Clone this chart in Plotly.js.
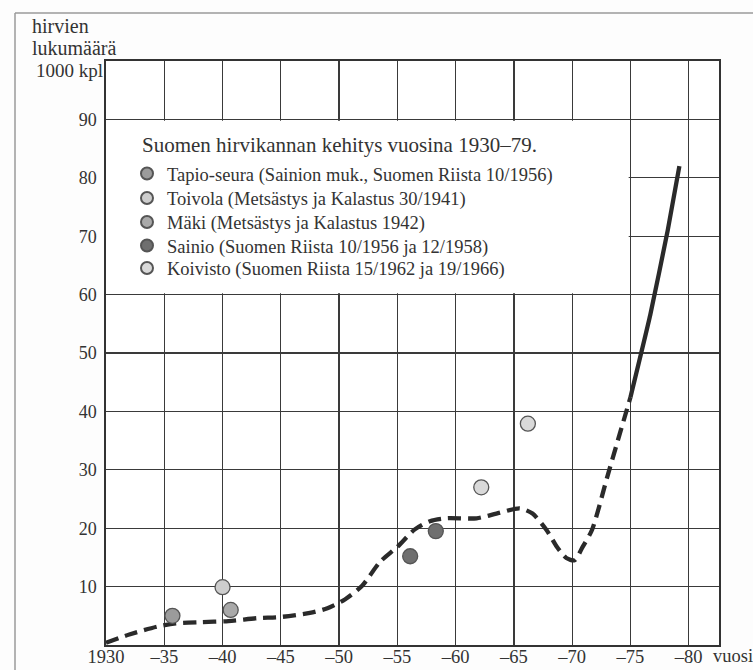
<!DOCTYPE html>
<html>
<head>
<meta charset="utf-8">
<script src="https://cdn.plot.ly/plotly-3.0.1.min.js"></script>
<style>
html,body{margin:0;padding:0;background:#fdfdfd;}
#chart{width:753px;height:670px;}
</style>
</head>
<body>
<div id="chart"></div>
<script>
// ---- data ----
const curveYearsDashed = [1930, 1932, 1934.5, 1936, 1938, 1940.5, 1943, 1945, 1947.5, 1949, 1950.5, 1952, 1953.5, 1955, 1956.5, 1957.8, 1959.2, 1961.8, 1963.5, 1965.5, 1966.6, 1967.8, 1968.7, 1969.5, 1970.2, 1970.9, 1971.7, 1973.1, 1975];
const curveValuesDashed = [0.4, 1.8, 3.2, 3.7, 3.9, 4.1, 4.6, 4.8, 5.5, 6.3, 7.8, 10.2, 14.2, 16.8, 19.8, 21.2, 21.7, 21.7, 22.5, 23.4, 22.5, 19.7, 16.8, 14.9, 14.5, 16.8, 19.7, 29.4, 42.4];
const curveYearsSolid = [1975, 1976.7, 1978.2, 1979.2];
const curveValuesSolid = [42.4, 56.5, 71, 82];

const tapioYears = [1935.7];      const tapioValues = [5.0];
const toivolaYears = [1940.0];    const toivolaValues = [9.9];
const makiYears = [1940.7];       const makiValues = [6.0];
const sainioYears = [1956.1, 1958.3];   const sainioValues = [15.2, 19.5];
const koivistoYears = [1962.2, 1966.2]; const koivistoValues = [27.0, 37.9];

const seriesNames = [
  "Tapio-seura (Sainion muk., Suomen Riista 10/1956)",
  "Toivola (Metsästys ja Kalastus 30/1941)",
  "Mäki (Metsästys ja Kalastus 1942)",
  "Sainio (Suomen Riista 10/1956 ja 12/1958)",
  "Koivisto (Suomen Riista 15/1962 ja 19/1966)"
];
const legendTitle = "Suomen hirvikannan kehitys vuosina 1930–79.";
const xTickVals = [1930, 1935, 1940, 1945, 1950, 1955, 1960, 1965, 1970, 1975, 1980];
const xTickText = ["1930", "–35", "–40", "–45", "–50", "–55", "–60", "–65", "–70", "–75", "–80"];
const yTickVals = [10, 20, 30, 40, 50, 60, 70, 80, 90];
const yTickText = ["10", "20", "30", "40", "50", "60", "70", "80", "90"];

// ---- styles / layout helpers ----
const serif = "'Liberation Serif', 'DejaVu Serif', serif";
const ink = "#2a2a2a";
const txt = "#333";
const W = 753, H = 670, ML = 106, MR = 34, MT = 61, MB = 25;
const PW = W - ML - MR, PH = H - MT - MB;
const px = (x) => (x - ML) / PW;          // pixel -> paper x
const py = (y) => 1 - (y - MT) / PH;      // pixel -> paper y

const legendRowsPx = [174, 198.5, 222.5, 246, 268.5];
const legendIds = ["legend", "legend2", "legend3", "legend4", "legend5"];
const fills = ["#9b9b9b", "#cdcdcd", "#a9a9a9", "#6f6f6f", "#d9d9d9"];

function pts(i, x, y) {
  return {
    type: "scatter", mode: "markers", name: seriesNames[i], x: x, y: y,
    legend: legendIds[i],
    marker: {size: 15, color: fills[i], line: {color: "#555", width: 1.3}},
    showlegend: true, hoverinfo: "skip"
  };
}

const traces = [
  {type: "scatter", mode: "lines", x: curveYearsDashed, y: curveValuesDashed,
   line: {color: ink, width: 4.3, dash: "13px,7px", shape: "spline", smoothing: 0.7},
   showlegend: false, hoverinfo: "skip"},
  {type: "scatter", mode: "lines", x: curveYearsSolid, y: curveValuesSolid,
   line: {color: ink, width: 4.3, shape: "spline", smoothing: 0.4},
   showlegend: false, hoverinfo: "skip"},
  pts(0, tapioYears, tapioValues),
  pts(1, toivolaYears, toivolaValues),
  pts(2, makiYears, makiValues),
  pts(3, sainioYears, sainioValues),
  pts(4, koivistoYears, koivistoValues)
];

const layout = {
  width: W, height: H,
  margin: {l: ML, r: MR, t: MT, b: MB},
  paper_bgcolor: "#fdfdfd", plot_bgcolor: "#ffffff",
  font: {family: serif, color: txt, size: 18},
  showlegend: true,
  xaxis: {
    range: [1930, 1982.6], tickvals: xTickVals, ticktext: xTickText,
    showgrid: true, gridcolor: "#3a3a3a", gridwidth: 1.3,
    zeroline: false, showline: true, linecolor: "#333", linewidth: 1.6,
    mirror: true, ticks: "", ticklabelstandoff: -6,
    tickfont: {family: serif, size: 18.5, color: txt}, fixedrange: true
  },
  yaxis: {
    range: [0, 100], tickvals: yTickVals, ticktext: yTickText,
    showgrid: true, gridcolor: "#3a3a3a", gridwidth: 1.3,
    zeroline: false, showline: true, linecolor: "#333", linewidth: 1.6,
    mirror: true, ticks: "", ticklabelstandoff: 4,
    tickfont: {family: serif, size: 18, color: txt}, fixedrange: true
  },
  shapes: [
    {type: "rect", xref: "x", yref: "y", x0: 1930, x1: 1974.85, y0: 60.25, y1: 89.75,
     fillcolor: "#ffffff", line: {width: 0}, layer: "between"},
    {type: "line", xref: "paper", yref: "paper", x0: px(15), x1: px(760), y0: py(13), y1: py(13),
     line: {color: "#9a9a9a", width: 1.5}},
    {type: "line", xref: "paper", yref: "paper", x0: px(15), x1: px(15), y0: py(13), y1: py(680),
     line: {color: "#9a9a9a", width: 1.5}}
  ],
  annotations: [
    {text: "hirvien", xref: "paper", yref: "paper", x: px(30), y: py(26), xanchor: "left", yanchor: "middle", showarrow: false, font: {family: serif, size: 20, color: txt}},
    {text: "lukumäärä", xref: "paper", yref: "paper", x: px(30), y: py(48), xanchor: "left", yanchor: "middle", showarrow: false, font: {family: serif, size: 20, color: txt}},
    {text: "1000 kpl", xref: "paper", yref: "paper", x: px(105), y: py(70), xanchor: "right", yanchor: "middle", showarrow: false, font: {family: serif, size: 19, color: txt}},
    {text: "vuosi", xref: "paper", yref: "paper", x: px(711), y: py(656), xanchor: "left", yanchor: "middle", showarrow: false, font: {family: serif, size: 18.5, color: txt}},
    {text: legendTitle, xref: "paper", yref: "paper", x: px(140), y: py(145), xanchor: "left", yanchor: "middle", showarrow: false, font: {family: serif, size: 21, color: txt}}
  ]
};

legendIds.forEach((id, i) => {
  layout[id] = {
    x: px(127), y: py(legendRowsPx[i]), xanchor: "left", yanchor: "middle",
    bgcolor: "rgba(0,0,0,0)", borderwidth: 0,
    font: {family: serif, size: 18.5, color: txt},
    itemsizing: "constant"
  };
});

Plotly.newPlot("chart", traces, layout, {staticPlot: true, displayModeBar: false});
</script>
</body>
</html>
